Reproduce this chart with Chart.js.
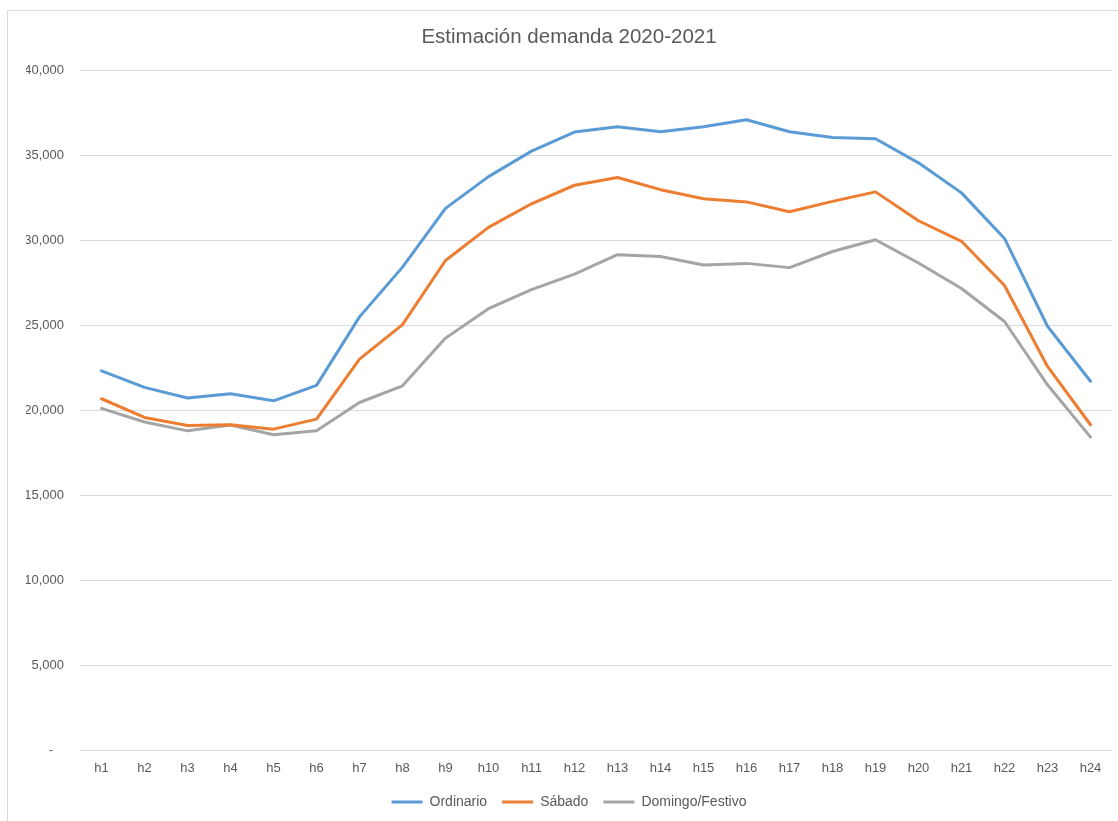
<!DOCTYPE html>
<html lang="es">
<head>
<meta charset="utf-8">
<title>Estimación demanda 2020-2021</title>
<script src="https://cdn.jsdelivr.net/npm/chart.js@4/dist/chart.umd.min.js"></script>
<style>
  html, body { margin: 0; padding: 0; background: #fff; overflow: hidden; }
  #frame {
    position: absolute; left: 7px; top: 10px;
    width: 1130px; height: 830px;
    border: 1px solid #d9d9d9;
  }
  #wrap { position: absolute; left: 8px; top: 11px; width: 1110px; height: 810px; }
</style>
</head>
<body>
<div id="frame"></div>
<div id="wrap"><canvas id="demandChart" width="1110" height="810"></canvas></div>
<script>
// hourly demand estimate, one series per day type
const hours = ['h1','h2','h3','h4','h5','h6','h7','h8','h9','h10','h11','h12',
               'h13','h14','h15','h16','h17','h18','h19','h20','h21','h22','h23','h24'];

const ordinario = [22320, 21350, 20720, 20970, 20560, 21470, 25500, 28430, 31890, 33760, 35260, 36380,
                   36700, 36400, 36700, 37110, 36400, 36060, 35990, 34570, 32800, 30120, 24950, 21710];
const sabado    = [20680, 19580, 19110, 19150, 18890, 19480, 23010, 25040, 28820, 30770, 32160, 33250,
                   33710, 32990, 32460, 32270, 31690, 32300, 32860, 31160, 29950, 27350, 22580, 19150];
const domingo   = [20110, 19310, 18790, 19130, 18560, 18790, 20460, 21440, 24250, 25980, 27100, 28020,
                   29160, 29060, 28550, 28650, 28400, 29350, 30040, 28670, 27170, 25230, 21500, 18420];

const TEXT = '#595959';
const GRID = '#d9d9d9';
const FONT = "'Liberation Sans', Arial, sans-serif";

function series(label, data, color) {
  return {
    label, data,
    borderColor: color,
    backgroundColor: color,
    borderWidth: 3,
    borderCapStyle: 'round',
    borderJoinStyle: 'round',
    pointRadius: 0,
    pointHoverRadius: 0,
    tension: 0,
    fill: false,
  };
}

new Chart(document.getElementById('demandChart'), {
  type: 'line',
  data: {
    labels: hours,
    datasets: [
      series('Ordinario', ordinario, '#5B9BD5'),
      series('Sábado', sabado, '#ED7D31'),
      series('Domingo/Festivo', domingo, '#A5A5A5'),
    ],
  },
  options: {
    responsive: false,
    animation: false,
    layout: { padding: { left: 18, right: 6, top: 0, bottom: 2 } },
    plugins: {
      title: {
        display: true,
        text: 'Estimación demanda 2020-2021',
        color: TEXT,
        font: { family: FONT, size: 20.5, weight: 'normal' },
        padding: { top: 14, bottom: 21 },
      },
      legend: {
        position: 'bottom',
        labels: {
          color: TEXT,
          font: { family: FONT, size: 14 },
          boxWidth: 31,
          boxHeight: 3,
          padding: 15,
          generateLabels(chart) {
            const items = Chart.defaults.plugins.legend.labels.generateLabels(chart);
            items.forEach(it => { it.lineWidth = 0; });
            return items;
          },
        },
      },
      tooltip: { enabled: false },
    },
    scales: {
      x: {
        offset: true,
        grid: { display: false, drawTicks: false },
        border: { display: false },
        ticks: {
          color: TEXT,
          font: { family: FONT, size: 13 },
          padding: 11,
          maxRotation: 0,
          autoSkip: false,
        },
        afterFit(s) { s.height = 30; },
      },
      y: {
        min: 0,
        max: 40000,
        grid: { color: GRID, lineWidth: 1, drawTicks: false },
        border: { display: false },
        ticks: {
          stepSize: 5000,
          color: TEXT,
          font: { family: FONT, size: 13 },
          padding: 16,
          callback: v => v === 0 ? '-   ' : v.toLocaleString('en-US'),
        },
        afterFit(s) { s.width = 54; },
      },
    },
  },
});
</script>
</body>
</html>
